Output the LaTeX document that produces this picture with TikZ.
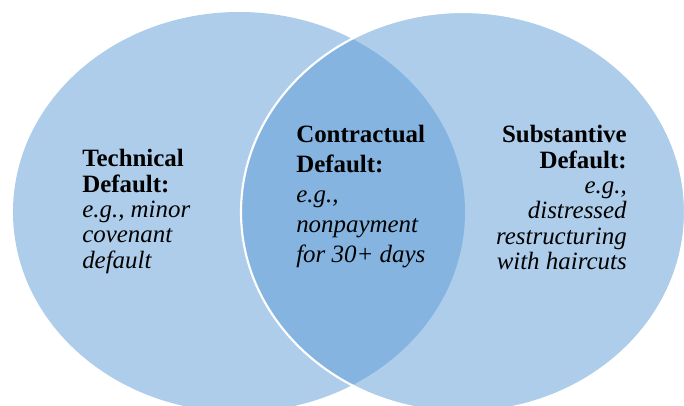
\documentclass[tikz,border=0pt]{standalone}
\usepackage{fontspec}
\setmainfont{Liberation Serif}
\usetikzlibrary{positioning, shapes.geometric}
\definecolor{vennblue}{HTML}{5B9BD5}

\begin{document}
\begin{tikzpicture}[x=0.75pt, y=-0.75pt,
    venn/.style={ellipse, inner sep=0pt, fill=vennblue, fill opacity=0.5},
    label/.style={inner sep=0pt, text=black, font=\fontsize{18.7}{19.1}\selectfont}]
  \useasboundingbox (0,0) rectangle (684,406);
  \node[venn, minimum width=339pt, minimum height=300pt] (technical) at (239,212) {};
  \node[venn, draw=white, line width=1.6pt, minimum width=333pt, minimum height=300pt] (substantive) at (463,212) {};
  \node[label, anchor=north west, align=left] (techtext) at (82,149)
    {\textbf{Technical}\\\textbf{Default:}\\\textit{e.g., minor}\\\textit{covenant}\\\textit{default}};
  \node[label, anchor=north west, align=left, font=\fontsize{18.7}{22.5}\selectfont] (contrtext) at (296,125)
    {\textbf{Contractual}\\\textbf{Default:}\\\textit{e.g.,}\\\textit{nonpayment}\\\textit{for 30+ days}};
  \node[label, anchor=north east, align=right] (substtext) at (627,125)
    {\textbf{Substantive}\\\textbf{Default:}\\\textit{e.g.,}\\\textit{distressed}\\\textit{restructuring}\\\textit{with haircuts}};
\end{tikzpicture}
\end{document}
